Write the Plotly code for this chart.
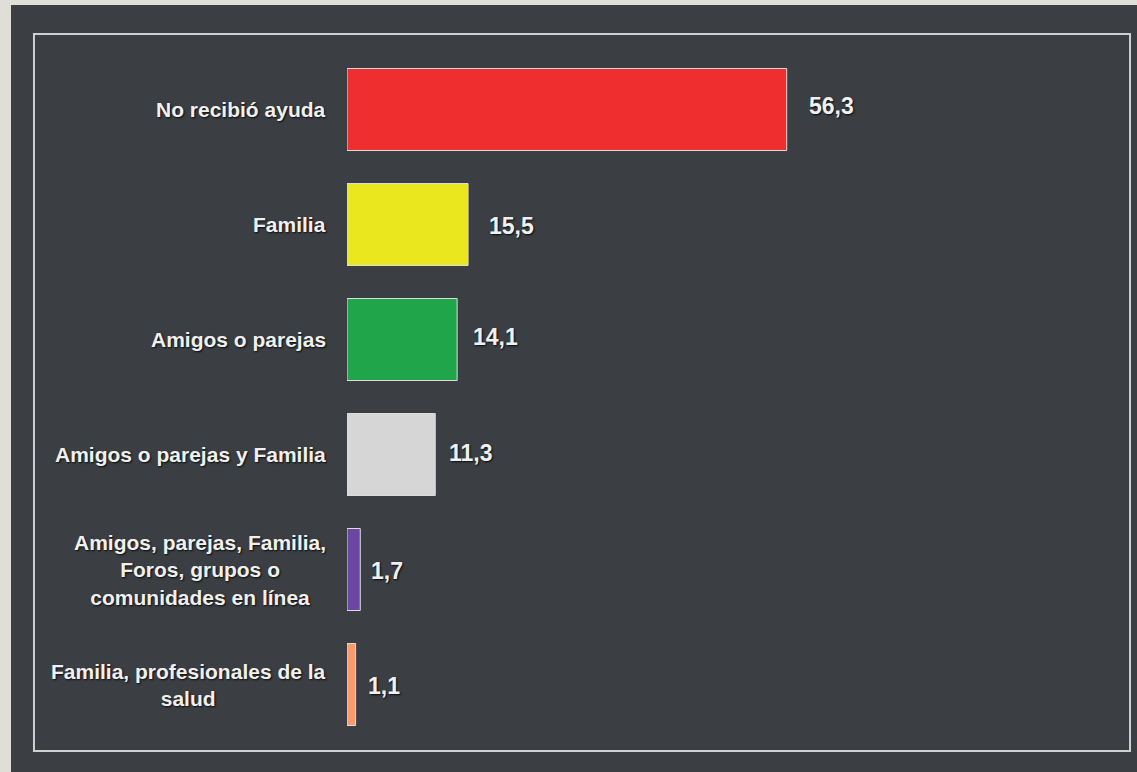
import plotly.graph_objects as go

# Data
categories = [
    "No recibió ayuda",
    "Familia",
    "Amigos o parejas",
    "Amigos o parejas y Familia",
    "Amigos, parejas, Familia,<br>Foros, grupos o<br>comunidades en línea",
    "Familia, profesionales de la<br>salud",
]
values = [56.3, 15.5, 14.1, 11.3, 1.7, 1.1]
bar_colors = ["#ee2e2f", "#ebe71f", "#21a54a", "#d5d6d5", "#6b47a1", "#f89a6e"]

# Small offsets (px) for the value labels, as placed in the reference
label_dx = [20, 19, 14, 12, 9, 10]
label_dy = [4, -1, 3, 2, -1, -1]

DARK = "#3b3f43"
LIGHT = "#dfdfd7"
FONT = "Liberation Sans, Arial, sans-serif"
SHADOW = "1px 1px 2px rgba(0,0,0,0.85)"

fig = go.Figure(go.Bar(
    x=values,
    y=categories,
    orientation="h",
    marker=dict(color=bar_colors, line=dict(color="#dcdcdc", width=1)),
    hoverinfo="skip",
))

annotations = []
# category labels, centred multi-line text to the left of the bars
for cat in categories:
    annotations.append(dict(
        x=0, y=cat, xref="x", yref="y", text=cat, showarrow=False,
        xanchor="right", yanchor="middle", align="center", xshift=-19,
        font=dict(family=FONT, size=21, color="#f0f0f0", weight="bold", shadow=SHADOW),
    ))
# value labels with comma decimals
for cat, v, dx, dy in zip(categories, values, label_dx, label_dy):
    annotations.append(dict(
        x=v, y=cat, xref="x", yref="y", text=f"{v:.1f}".replace(".", ","),
        showarrow=False, xanchor="left", yanchor="middle", xshift=dx, yshift=dy,
        font=dict(family=FONT, size=23, color="#f0f0f0", weight="bold", shadow=SHADOW),
    ))

shapes = [
    # light strips at the left and top edges
    dict(type="rect", xref="paper", yref="paper", x0=-0.5, x1=-0.4302, y0=-0.2, y1=1.2,
         fillcolor=LIGHT, line=dict(width=0), layer="below"),
    dict(type="rect", xref="paper", yref="paper", x0=-0.5, x1=1.1, y0=1.0681, y1=1.2,
         fillcolor=LIGHT, line=dict(width=0), layer="below"),
    # thin frame round the chart
    dict(type="rect", xref="paper", yref="paper", x0=-0.4008, x1=1.0026, y0=-0.013, y1=1.0261,
         fillcolor="rgba(0,0,0,0)", line=dict(color="#cfcfcf", width=2), layer="below"),
]

fig.update_layout(
    width=1137, height=772,
    margin=dict(l=347, r=9, t=52, b=30),
    paper_bgcolor=DARK, plot_bgcolor=DARK,
    bargap=0.287,
    showlegend=False,
    xaxis=dict(range=[0, 100], visible=False, fixedrange=True),
    yaxis=dict(autorange="reversed", showticklabels=False, showgrid=False,
               zeroline=False, showline=False, ticks="", fixedrange=True),
    annotations=annotations,
    shapes=shapes,
)

# drop the page's default body margin so the figure sits at the window's corner
fig.write_html("out.html",
               config={"displayModeBar": False},
               post_script="document.body.style.margin='0';"
                           "document.body.style.background='" + LIGHT + "';")
